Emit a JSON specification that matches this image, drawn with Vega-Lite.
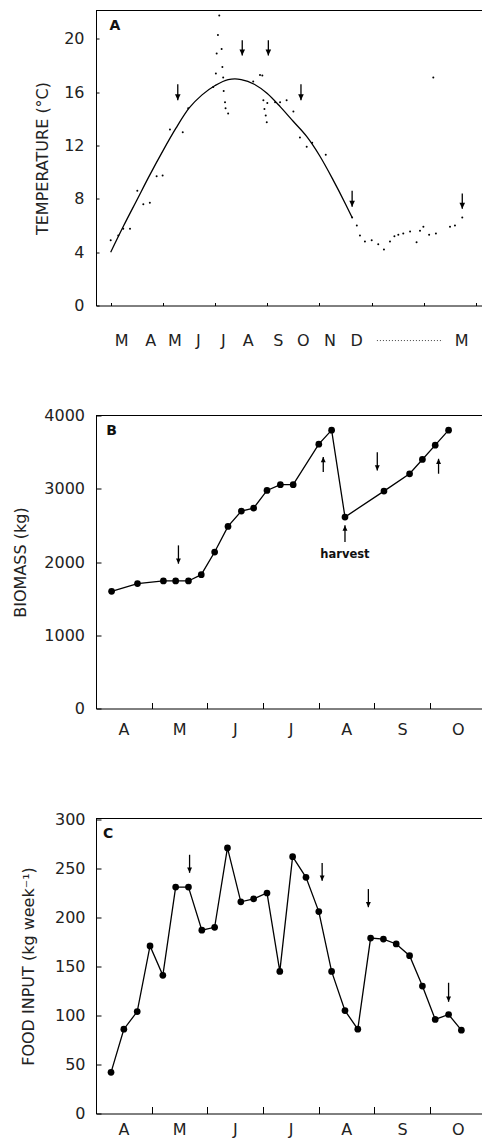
{
  "$schema": "https://vega.github.io/schema/vega-lite/v6.json",
  "padding": {"left": 12, "top": 9.5, "right": 0, "bottom": 4},
  "autosize": {"type": "pad"},
  "bounds": "flush",
  "spacing": 110,
  "config": {
    "view": {"stroke": null},
    "axis": {
      "labelFont": "DejaVu Sans", "labelFontSize": 16, "labelColor": "#222",
      "titleFont": "DejaVu Sans", "titleFontSize": 16, "titleFontWeight": "normal", "titleColor": "#222",
      "domainColor": "#000", "tickColor": "#000", "grid": false,
      "labelFlush": false, "labelOverlap": false, "labelBound": false
    }
  },
  "datasets": {
    "tempCurve": [
      {"month": 0, "temp": 4.0}, {"month": 0.5, "temp": 6.0}, {"month": 1.0, "temp": 7.9},
      {"month": 1.5, "temp": 9.8}, {"month": 2.0, "temp": 11.6}, {"month": 2.5, "temp": 13.3},
      {"month": 3.0, "temp": 14.8}, {"month": 3.5, "temp": 15.8}, {"month": 4.0, "temp": 16.5},
      {"month": 4.5, "temp": 16.95}, {"month": 4.76, "temp": 17.0}, {"month": 5.0, "temp": 16.95},
      {"month": 5.5, "temp": 16.6}, {"month": 6.0, "temp": 15.9}, {"month": 6.5, "temp": 14.9},
      {"month": 7.0, "temp": 13.8}, {"month": 7.5, "temp": 12.7}, {"month": 8.0, "temp": 11.25},
      {"month": 8.5, "temp": 9.5}, {"month": 9.0, "temp": 7.6}, {"month": 9.25, "temp": 6.6}
    ],
    "tempDots": [
      {"month": 0, "temp": 4.9}, {"month": 0.29, "temp": 5.25}, {"month": 0.48, "temp": 5.75},
      {"month": 0.74, "temp": 5.75}, {"month": 1.02, "temp": 8.6}, {"month": 1.25, "temp": 7.6},
      {"month": 1.5, "temp": 7.7}, {"month": 1.76, "temp": 9.7}, {"month": 1.99, "temp": 9.75},
      {"month": 2.27, "temp": 13.2}, {"month": 2.76, "temp": 13.0}, {"month": 2.97, "temp": 14.8},
      {"month": 3.93, "temp": 16.4}, {"month": 4.03, "temp": 17.4}, {"month": 4.06, "temp": 18.9},
      {"month": 4.11, "temp": 20.3}, {"month": 4.16, "temp": 21.75}, {"month": 4.25, "temp": 19.25},
      {"month": 4.28, "temp": 17.9}, {"month": 4.31, "temp": 17.1}, {"month": 4.33, "temp": 16.1},
      {"month": 4.38, "temp": 15.25}, {"month": 4.4, "temp": 14.8}, {"month": 4.5, "temp": 14.4},
      {"month": 5.46, "temp": 16.8}, {"month": 5.72, "temp": 17.3}, {"month": 5.81, "temp": 17.25},
      {"month": 5.85, "temp": 15.4}, {"month": 5.89, "temp": 14.75}, {"month": 5.94, "temp": 14.25},
      {"month": 5.98, "temp": 13.75}, {"month": 6.0, "temp": 15.2}, {"month": 6.3, "temp": 15.25},
      {"month": 6.49, "temp": 15.25}, {"month": 6.74, "temp": 15.4}, {"month": 7.0, "temp": 14.55},
      {"month": 7.25, "temp": 12.6}, {"month": 7.51, "temp": 11.9}, {"month": 7.72, "temp": 12.2},
      {"month": 8.24, "temp": 11.3}, {"month": 9.25, "temp": 6.6}, {"month": 9.43, "temp": 6.0},
      {"month": 9.55, "temp": 5.25}, {"month": 9.74, "temp": 4.8}, {"month": 10.0, "temp": 4.9},
      {"month": 10.25, "temp": 4.6}, {"month": 10.47, "temp": 4.2}, {"month": 10.7, "temp": 4.8},
      {"month": 10.87, "temp": 5.2}, {"month": 11.02, "temp": 5.3}, {"month": 11.21, "temp": 5.4},
      {"month": 11.47, "temp": 5.55}, {"month": 11.72, "temp": 4.75}, {"month": 11.85, "temp": 5.6},
      {"month": 11.98, "temp": 5.9}, {"month": 12.2, "temp": 5.3}, {"month": 12.36, "temp": 17.1},
      {"month": 12.46, "temp": 5.4}, {"month": 13.0, "temp": 5.9}, {"month": 13.19, "temp": 6.0},
      {"month": 13.47, "temp": 6.6}
    ],
    "tempArrows": [
      {"month": 2.57, "tail": 16.6, "tip": 15.4}, {"month": 5.04, "tail": 19.9, "tip": 18.75},
      {"month": 6.04, "tail": 19.9, "tip": 18.75}, {"month": 7.29, "tail": 16.6, "tip": 15.4},
      {"month": 9.25, "tail": 8.6, "tip": 7.4}, {"month": 13.47, "tail": 8.4, "tip": 7.25}
    ],
    "tempMonths": [
      {"month": 0.42, "label": "M"}, {"month": 1.53, "label": "A"}, {"month": 2.46, "label": "M"},
      {"month": 3.36, "label": "J"}, {"month": 4.32, "label": "J"}, {"month": 5.27, "label": "A"},
      {"month": 6.42, "label": "S"}, {"month": 7.38, "label": "O"}, {"month": 8.4, "label": "N"},
      {"month": 9.42, "label": "D"}, {"month": 13.45, "label": "M"}
    ],
    "biomass": [
      {"month": 0.28, "kg": 1600}, {"month": 0.745, "kg": 1705}, {"month": 1.21, "kg": 1741},
      {"month": 1.43, "kg": 1741}, {"month": 1.66, "kg": 1741}, {"month": 1.89, "kg": 1827},
      {"month": 2.13, "kg": 2136}, {"month": 2.37, "kg": 2486}, {"month": 2.61, "kg": 2695},
      {"month": 2.83, "kg": 2736}, {"month": 3.07, "kg": 2977}, {"month": 3.31, "kg": 3055},
      {"month": 3.54, "kg": 3055}, {"month": 4.0, "kg": 3609}, {"month": 4.23, "kg": 3800},
      {"month": 4.47, "kg": 2614}, {"month": 5.17, "kg": 2968}, {"month": 5.63, "kg": 3204},
      {"month": 5.86, "kg": 3400}, {"month": 6.09, "kg": 3595}, {"month": 6.33, "kg": 3800}
    ],
    "bioArrows": [
      {"month": 1.48, "tail": 2227, "tip": 1977, "dir": "down"},
      {"month": 4.08, "tail": 3227, "tip": 3432, "dir": "up"},
      {"month": 4.47, "tail": 2273, "tip": 2500, "dir": "up"},
      {"month": 5.05, "tail": 3500, "tip": 3250, "dir": "down"},
      {"month": 6.15, "tail": 3205, "tip": 3409, "dir": "up"}
    ],
    "food": [
      {"month": 0.27, "kg": 42}, {"month": 0.5, "kg": 86}, {"month": 0.74, "kg": 104},
      {"month": 0.97, "kg": 171}, {"month": 1.2, "kg": 141}, {"month": 1.43, "kg": 231},
      {"month": 1.66, "kg": 231}, {"month": 1.9, "kg": 187}, {"month": 2.13, "kg": 190},
      {"month": 2.36, "kg": 271}, {"month": 2.6, "kg": 216}, {"month": 2.83, "kg": 219},
      {"month": 3.07, "kg": 225}, {"month": 3.3, "kg": 145}, {"month": 3.53, "kg": 262},
      {"month": 3.77, "kg": 241}, {"month": 4.0, "kg": 206}, {"month": 4.23, "kg": 145},
      {"month": 4.47, "kg": 105}, {"month": 4.7, "kg": 86}, {"month": 4.93, "kg": 179},
      {"month": 5.16, "kg": 178}, {"month": 5.39, "kg": 173}, {"month": 5.63, "kg": 161},
      {"month": 5.86, "kg": 130}, {"month": 6.09, "kg": 96}, {"month": 6.33, "kg": 101},
      {"month": 6.56, "kg": 85}
    ],
    "foodArrows": [
      {"month": 1.68, "tail": 264, "tip": 245.6}, {"month": 4.06, "tail": 255.6, "tip": 237.6},
      {"month": 4.89, "tail": 229, "tip": 210.5}, {"month": 6.33, "tail": 133.4, "tip": 114}
    ]
  },
  "vconcat": [
    {
      "width": 386, "height": 295,
      "layer": [
        {
          "data": {"name": "tempCurve"},
          "mark": {"type": "line", "color": "#000", "strokeWidth": 1.3, "interpolate": "monotone"},
          "encoding": {
            "x": {"field": "month", "type": "quantitative",
              "scale": {"domain": [-0.563, 14.226], "nice": false, "zero": false},
              "axis": {"title": null, "values": [0,1,2,3,4,5,6,7,8,9,10,11,12,13,14],
                "labels": false, "tickSize": -3}},
            "y": {"field": "temp", "type": "quantitative",
              "scale": {"domain": [0, 22.13], "nice": false},
              "axis": {"title": "TEMPERATURE (°C)", "titleX": -54, "titleBaseline": "middle",
                "values": [0,2,4,6,8,10,12,14,16,18,20],
                "labelExpr": "datum.value % 4 == 0 ? datum.label : ''",
                "labelOverlap": false, "labelFlush": false,
                "tickSize": -3, "labelPadding": 15}}
          }
        },
        {
          "data": {"name": "tempDots"},
          "mark": {"type": "point", "filled": true, "size": 4, "color": "#000", "opacity": 1},
          "encoding": {
            "x": {"field": "month", "type": "quantitative"},
            "y": {"field": "temp", "type": "quantitative"}
          }
        },
        {
          "data": {"name": "tempArrows"},
          "mark": {"type": "rule", "color": "#000", "strokeWidth": 1.3},
          "encoding": {
            "x": {"field": "month", "type": "quantitative"},
            "y": {"field": "tail", "type": "quantitative"},
            "y2": {"field": "tip"}
          }
        },
        {
          "data": {"name": "tempArrows"},
          "mark": {"type": "point", "filled": true, "size": 64, "color": "#000", "opacity": 1,
            "shape": "M0,0L-0.7,-1.5L0.7,-1.5Z"},
          "encoding": {
            "x": {"field": "month", "type": "quantitative"},
            "y": {"field": "tip", "type": "quantitative"}
          }
        },
        {
          "data": {"values": [{"month": 0.16, "temp": 21.0, "label": "A"}]},
          "mark": {"type": "text", "font": "DejaVu Sans", "fontSize": 14, "fontWeight": "bold", "color": "#111", "align": "center", "baseline": "middle"},
          "encoding": {
            "x": {"field": "month", "type": "quantitative"},
            "y": {"field": "temp", "type": "quantitative"},
            "text": {"field": "label"}
          }
        },
        {
          "data": {"name": "tempMonths"},
          "mark": {"type": "text", "font": "DejaVu Sans", "fontSize": 16, "color": "#222", "align": "center", "baseline": "middle"},
          "encoding": {
            "x": {"field": "month", "type": "quantitative"},
            "y": {"datum": -2.63, "type": "quantitative"},
            "text": {"field": "label"}
          }
        },
        {
          "data": {"values": [{"from": 10.2, "to": 12.73, "temp": -2.63}]},
          "mark": {"type": "rule", "color": "#444", "strokeWidth": 1, "strokeDash": [1, 2]},
          "encoding": {
            "x": {"field": "from", "type": "quantitative"},
            "x2": {"field": "to"},
            "y": {"field": "temp", "type": "quantitative"}
          }
        },
        {
          "data": {"values": [{}]},
          "mark": {"type": "rule", "color": "#000", "strokeWidth": 1},
          "encoding": {"y": {"datum": 22.13, "type": "quantitative"}}
        }
      ]
    },
    {
      "width": 386, "height": 293,
      "layer": [
        {
          "data": {"name": "biomass"},
          "mark": {"type": "line", "color": "#000", "strokeWidth": 1.3,
            "point": {"filled": true, "size": 45, "color": "#000", "opacity": 1}},
          "encoding": {
            "x": {"field": "month", "type": "quantitative",
              "scale": {"domain": [0, 6.93], "nice": false, "zero": false},
              "axis": {"title": null, "values": [0,1,2,3,4,5,6],
                "labelExpr": "['A','M','J','J','A','S','O'][datum.value]",
                "labelOverlap": false, "labelFlush": false,
                "tickSize": -6, "labelPadding": 19, "labelOffset": 27.5}},
            "y": {"field": "kg", "type": "quantitative",
              "scale": {"domain": [0, 4000], "nice": false},
              "axis": {"title": "BIOMASS (kg)", "titleX": -76, "titleBaseline": "middle",
                "values": [0,500,1000,1500,2000,2500,3000,3500,4000],
                "labelExpr": "datum.value % 1000 == 0 ? '' + datum.value : ''",
                "labelOverlap": false, "labelFlush": false,
                "tickSize": -5, "labelPadding": 16.5}}
          }
        },
        {
          "data": {"name": "bioArrows"},
          "mark": {"type": "rule", "color": "#000", "strokeWidth": 1.3},
          "encoding": {
            "x": {"field": "month", "type": "quantitative"},
            "y": {"field": "tail", "type": "quantitative"},
            "y2": {"field": "tip"}
          }
        },
        {
          "data": {"name": "bioArrows"},
          "transform": [{"filter": "datum.dir == 'down'"}],
          "mark": {"type": "point", "filled": true, "size": 49, "color": "#000", "opacity": 1,
            "shape": "M0,0L-0.7,-1.5L0.7,-1.5Z"},
          "encoding": {
            "x": {"field": "month", "type": "quantitative"},
            "y": {"field": "tip", "type": "quantitative"}
          }
        },
        {
          "data": {"name": "bioArrows"},
          "transform": [{"filter": "datum.dir == 'up'"}],
          "mark": {"type": "point", "filled": true, "size": 49, "color": "#000", "opacity": 1,
            "shape": "M0,0L-0.7,1.5L0.7,1.5Z"},
          "encoding": {
            "x": {"field": "month", "type": "quantitative"},
            "y": {"field": "tip", "type": "quantitative"}
          }
        },
        {
          "data": {"values": [{"month": 0.28, "kg": 3795, "label": "B"}, {"month": 4.47, "kg": 2090, "label": "harvest"}]},
          "mark": {"type": "text", "font": "DejaVu Sans", "fontWeight": "bold", "color": "#111", "align": "center", "baseline": "middle"},
          "encoding": {
            "x": {"field": "month", "type": "quantitative"},
            "y": {"field": "kg", "type": "quantitative"},
            "text": {"field": "label"},
            "size": {"condition": {"test": "datum.label == 'B'", "value": 14}, "value": 11.5}
          }
        },
        {
          "data": {"values": [{}]},
          "mark": {"type": "rule", "color": "#000", "strokeWidth": 1},
          "encoding": {"y": {"datum": 4000, "type": "quantitative"}}
        }
      ]
    },
    {
      "width": 386, "height": 295,
      "layer": [
        {
          "data": {"name": "food"},
          "mark": {"type": "line", "color": "#000", "strokeWidth": 1.3,
            "point": {"filled": true, "size": 45, "color": "#000", "opacity": 1}},
          "encoding": {
            "x": {"field": "month", "type": "quantitative",
              "scale": {"domain": [0, 6.93], "nice": false, "zero": false},
              "axis": {"title": null, "values": [0,1,2,3,4,5,6],
                "labelExpr": "['A','M','J','J','A','S','O'][datum.value]",
                "labelOverlap": false, "labelFlush": false,
                "tickSize": -7, "labelPadding": 14.5, "labelOffset": 27.5}},
            "y": {"field": "kg", "type": "quantitative",
              "scale": {"domain": [0, 301], "nice": false},
              "axis": {"title": "FOOD INPUT (kg week⁻¹)", "titleX": -68, "titleBaseline": "middle",
                "values": [0,50,100,150,200,250,300],
                "labelOverlap": false, "labelFlush": false,
                "tickSize": -5, "labelPadding": 16}}
          }
        },
        {
          "data": {"name": "foodArrows"},
          "mark": {"type": "rule", "color": "#000", "strokeWidth": 1.3},
          "encoding": {
            "x": {"field": "month", "type": "quantitative"},
            "y": {"field": "tail", "type": "quantitative"},
            "y2": {"field": "tip"}
          }
        },
        {
          "data": {"name": "foodArrows"},
          "mark": {"type": "point", "filled": true, "size": 49, "color": "#000", "opacity": 1,
            "shape": "M0,0L-0.7,-1.5L0.7,-1.5Z"},
          "encoding": {
            "x": {"field": "month", "type": "quantitative"},
            "y": {"field": "tip", "type": "quantitative"}
          }
        },
        {
          "data": {"values": [{"month": 0.22, "kg": 285, "label": "C"}]},
          "mark": {"type": "text", "font": "DejaVu Sans", "fontSize": 14, "fontWeight": "bold", "color": "#111", "align": "center", "baseline": "middle"},
          "encoding": {
            "x": {"field": "month", "type": "quantitative"},
            "y": {"field": "kg", "type": "quantitative"},
            "text": {"field": "label"}
          }
        },
        {
          "data": {"values": [{}]},
          "mark": {"type": "rule", "color": "#000", "strokeWidth": 1},
          "encoding": {"y": {"datum": 301, "type": "quantitative"}}
        }
      ]
    }
  ]
}
